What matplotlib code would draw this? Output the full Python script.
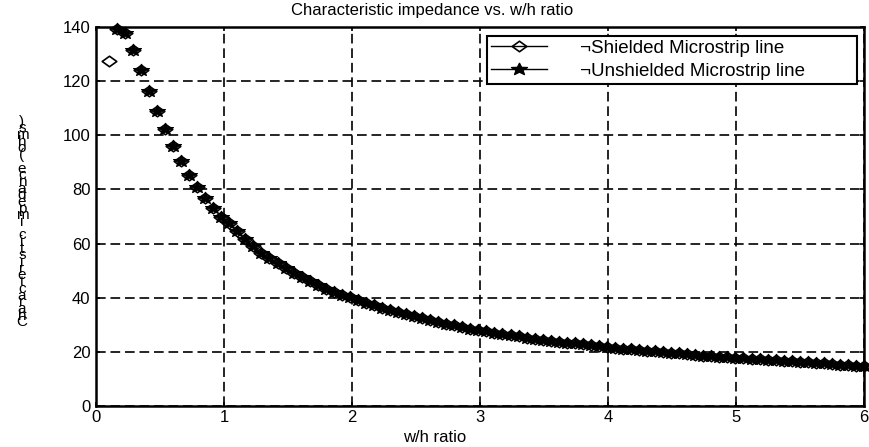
import numpy as np
import matplotlib
matplotlib.use("Agg")
import matplotlib.pyplot as plt
from matplotlib.path import Path
from matplotlib.lines import Line2D

# ---------------- data ----------------
wh_ratio = np.linspace(0.1, 6.0, 95)

unshielded = [np.nan, 139.3, 137.8, 131.4, 124.0, 116.2, 109.0, 102.4, 96.2, 90.5,
              85.2, 81.0, 77.0, 73.2, 70.0, 67.5, 64.5, 61.6, 59.0, 56.7,
              54.6, 52.7, 50.9, 49.2, 47.6, 46.1, 44.7, 43.4, 42.2, 41.0,
              40.2, 39.2, 38.2, 37.2, 36.3, 35.4, 34.6, 33.8, 33.1, 32.4,
              31.7, 31.0, 30.4, 29.8, 29.2, 28.6, 28.1, 27.6, 27.1, 26.6,
              26.2, 25.8, 25.3, 24.9, 24.5, 24.1, 23.8, 23.4, 23.1, 22.8,
              22.4, 22.1, 21.8, 21.5, 21.2, 21.0, 20.7, 20.4, 20.2, 19.9,
              19.6, 19.4, 19.1, 18.9, 18.6, 18.4, 18.2, 18.0, 17.8, 17.6,
              17.4, 17.2, 17.0, 16.9, 16.7, 16.5, 16.3, 16.1, 15.9, 15.7,
              15.5, 15.3, 15.1, 14.9, 14.7]

shielded = [127.3, 139.3, 137.8, 131.4, 124.0, 116.2, 109.0, 102.4, 96.2, 90.5,
            85.2, 81.0, 77.0, 73.2, 70.0, 67.5, 64.5, 61.6, 59.0, 56.7,
            54.6, 52.7, 50.9, 49.2, 47.6, 46.1, 44.7, 43.4, 42.2, 41.0,
            40.2, 39.2, 38.2, 37.2, 36.3, 35.4, 34.6, 33.8, 33.1, 32.4,
            31.7, 31.0, 30.4, 29.8, 29.2, 28.6, 28.1, 27.6, 27.1, 26.6,
            26.2, 25.8, 25.3, 24.9, 24.5, 24.1, 23.8, 23.4, 23.1, 22.8,
            22.4, 22.1, 21.8, 21.5, 21.2, 21.0, 20.7, 20.4, 20.2, 19.9,
            19.6, 19.4, 19.1, 18.9, 18.6, 18.4, 18.2, 18.0, 17.8, 17.6,
            17.4, 17.2, 17.0, 16.9, 16.7, 16.5, 16.3, 16.1, 15.9, 15.7,
            15.5, 15.3, 15.1, 14.9, 14.7]

x_ticks = [0, 1, 2, 3, 4, 5, 6]
y_ticks = [0, 20, 40, 60, 80, 100, 120, 140]
series_labels = ["\u00acShielded Microstrip line", "\u00acUnshielded Microstrip line"]
title_text = "Characteristic impedance vs. w/h ratio"
xlabel_text = "w/h ratio"
ylabel_text = "Characteristic impedance (ohms)"

# ---------------- style ----------------
plt.rcParams['font.family'] = ['Liberation Sans', 'DejaVu Sans']
FS = 12
LFS = 13.5

# wide diamond and wide star markers (the reference is horizontally stretched)
diamond = Path([(-1.0, 0.0), (0.0, 0.72), (1.0, 0.0), (0.0, -0.72), (-1.0, 0.0)],
               [Path.MOVETO, Path.LINETO, Path.LINETO, Path.LINETO, Path.CLOSEPOLY])
ang = np.pi / 2 + np.arange(10) * np.pi / 5
rad = np.where(np.arange(10) % 2 == 0, 1.0, 0.42)
sv = np.column_stack([1.35 * rad * np.cos(ang), rad * np.sin(ang)])
sv = np.vstack([sv, sv[:1]])
star = Path(sv, [Path.MOVETO] + [Path.LINETO] * 9 + [Path.CLOSEPOLY])

fig = plt.figure(figsize=(8.7, 4.47), dpi=100)
W, H = 870.0, 447.0
ax = fig.add_axes([96 / W, 41 / H, 768 / W, 379 / H])

ax.plot(wh_ratio, shielded, linestyle='none', marker=diamond, markersize=10.5,
        markerfacecolor='none', markeredgecolor='k', markeredgewidth=1.2,
        clip_on=False, zorder=3)
ax.plot(wh_ratio, unshielded, linestyle='none', marker=star, markersize=11.5,
        markerfacecolor='k', markeredgecolor='k', markeredgewidth=0.8,
        clip_on=False, zorder=4)

ax.set_xlim(0, 6)
ax.set_ylim(0, 140)
ax.set_xticks(x_ticks)
ax.set_yticks(y_ticks)
ax.set_xticklabels([str(v) for v in x_ticks], fontsize=FS)
ax.set_yticklabels([str(v) for v in y_ticks], fontsize=FS)
ax.tick_params(direction='in', length=3, width=1.2, top=True, right=True, pad=4)
ax.tick_params(axis='x', pad=3)
ax.grid(True, color='k', linestyle=(0, (5.8, 2.9)), linewidth=1.2)
for sp in ax.spines.values():
    sp.set_linewidth(1.8)
    sp.set_zorder(5)

fig.text(432 / W, 1 - 10 / H, title_text, ha='center', va='center', fontsize=FS)
fig.text(435 / W, 1 - 437 / H, xlabel_text, ha='center', va='center', fontsize=FS)
fig.text(22 / W, 1 - 222 / H, "\n".join(ylabel_text[::-1]), ha='center', va='center',
         multialignment='center', fontsize=11, linespacing=0.335)

handles = [
    Line2D([0], [0], color='k', lw=1, marker=diamond, markersize=10.5,
           markerfacecolor='none', markeredgecolor='k', markeredgewidth=1.2),
    Line2D([0], [0], color='k', lw=1, marker=star, markersize=11.5,
           markerfacecolor='k', markeredgecolor='k'),
]
leg = ax.legend(handles, series_labels, loc='upper left',
                bbox_to_anchor=(487 / W, 1 - 84 / H, 370 / W, 48 / H),
                bbox_transform=fig.transFigure, mode='expand', fontsize=LFS,
                frameon=True, fancybox=False, framealpha=1, borderpad=0.2,
                labelspacing=0.32, handlelength=3.0, handletextpad=1.75,
                borderaxespad=0)
leg.get_frame().set_edgecolor('k')
leg.get_frame().set_linewidth(1.5)
leg.set_zorder(6)

fig.savefig("out.png", dpi=100)
